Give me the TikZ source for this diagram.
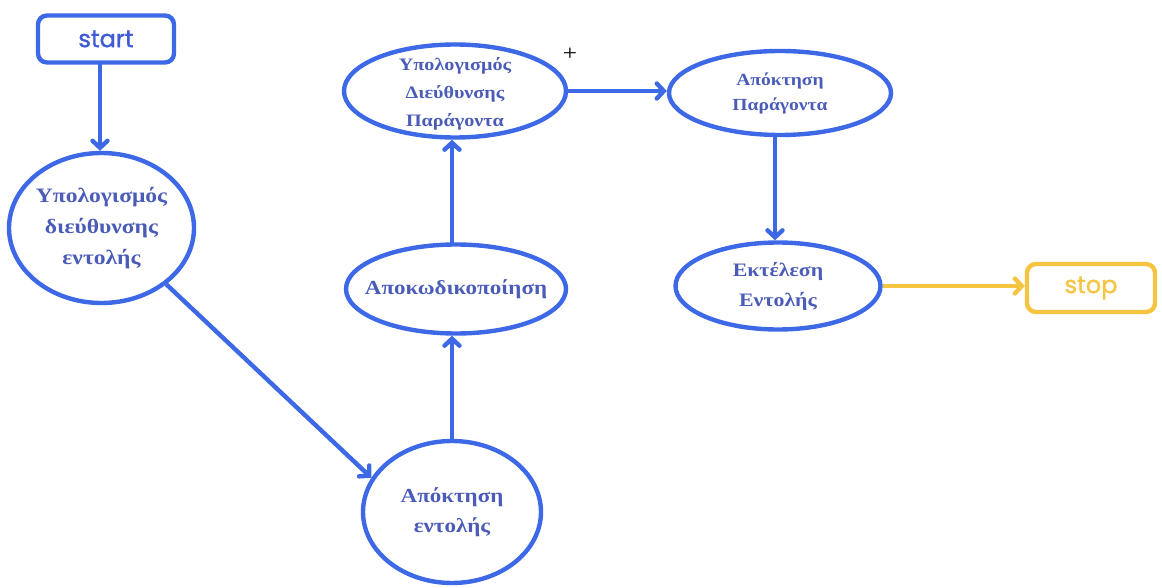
\documentclass[tikz,border=0pt]{standalone}
\usepackage{fontspec}
\setmainfont{Liberation Serif}[FakeStretch=1.15]
\newfontfamily\labelsans{Poppins}[BoldFont=Poppins, BoldFeatures={FakeBold=1.4}]
\usetikzlibrary{shapes.geometric,arrows.meta}
\definecolor{flowblue}{HTML}{3D68E6}
\definecolor{textblue}{HTML}{4A5CB8}
\definecolor{termblue}{HTML}{3F5BD6}
\definecolor{flowyellow}{HTML}{F5C542}
\tikzset{
  x=1pt, y=-1pt,
  stateoval/.style={ellipse, draw=flowblue, line width=4.4pt, inner sep=0pt},
  statetext/.style={inner sep=0pt, text=textblue, align=center},
  termbox/.style={rounded corners=9pt, line width=4.4pt, inner sep=0pt,
    font=\labelsans\bfseries\fontsize{24}{26}\selectfont},
  flow/.style={draw=flowblue, line width=4.4pt,
    -{Straight Barb[length=7pt,width=15pt,line cap=round]}},
}
\begin{document}
\begin{tikzpicture}
\useasboundingbox (0,0) rectangle (1162,588);

% terminal boxes
\node[termbox, draw=flowblue, text=termblue, minimum width=136pt, minimum height=47pt] (start) at (106,39) {start};
\node[termbox, draw=flowyellow, text=flowyellow, minimum width=128pt, minimum height=48pt] (stop) at (1091,288) {stop};

% processing states: outline first, caption on top
\node[stateoval, minimum width=185pt, minimum height=150pt] (calcinstr) at (101.5,228) {};
\node[statetext, font=\bfseries\fontsize{20.5}{31}\selectfont] (calcinstr-t) at (calcinstr)
  {Υπολογισμός\\διεύθυνσης\\εντολής};

\node[stateoval, minimum width=178pt, minimum height=142pt] (fetchinstr) at (452,512) {};
\node[statetext, font=\bfseries\fontsize{20}{30}\selectfont] (fetchinstr-t) at (fetchinstr)
  {Απόκτηση\\εντολής};

\node[stateoval, minimum width=220pt, minimum height=89pt] (decode) at (456,289) {};
\node[statetext, font=\bfseries\fontsize{20}{22}\selectfont] (decode-t) at (decode)
  {Αποκωδικοποίηση};

\node[stateoval, minimum width=222pt, minimum height=93pt] (calcop) at (455,91) {};
\node[statetext, font=\bfseries\fontsize{17.5}{28}\selectfont] (calcop-t) at ([yshift=-3pt]calcop)
  {Υπολογισμός\\Διεύθυνσης\\Παράγοντα};

\node[stateoval, minimum width=222pt, minimum height=84pt] (fetchop) at (780,93) {};
\node[statetext, font=\bfseries\fontsize{17}{25}\selectfont] (fetchop-t) at (fetchop)
  {Απόκτηση\\Παράγοντα};

\node[stateoval, minimum width=205pt, minimum height=87pt] (exec) at (778,286) {};
\node[statetext, font=\bfseries\fontsize{19}{30}\selectfont] (exec-t) at (exec)
  {Εκτέλεση\\Εντολής};

% small marker next to the top state
\node[font=\fontsize{22}{22}\selectfont, text=black, inner sep=0pt] (plus) at (570,54) {+};

% transitions
\coordinate (startfoot) at (100,63);
\draw[flow] (startfoot) -- (startfoot |- calcinstr.north);
\draw[flow] (calcinstr.-41) -- (fetchinstr.157);
\draw[flow] (fetchinstr.north) -- (fetchinstr.north |- decode.south);
\coordinate (dectop) at (452,246);
\draw[flow] (dectop) -- (dectop |- calcop.south);
\draw[flow] (calcop.east) -- (fetchop.west |- calcop.east);
\coordinate (opfoot) at (775,136);
\draw[flow] (opfoot) -- (opfoot |- exec.north);
\draw[flow, draw=flowyellow] (exec.east) -- (stop.west |- exec.east);
\end{tikzpicture}
\end{document}
